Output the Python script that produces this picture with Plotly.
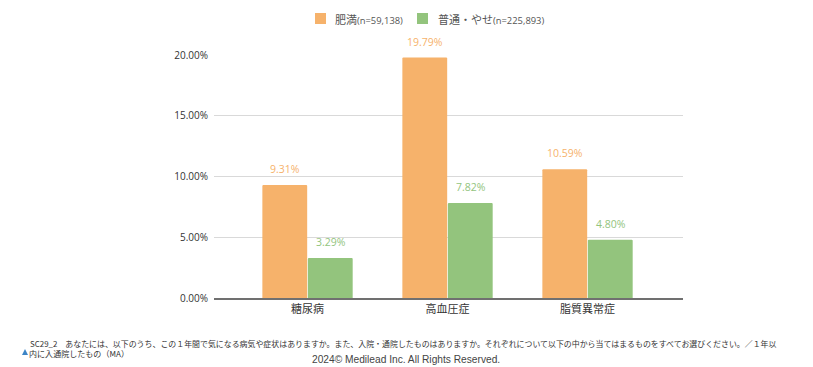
import plotly.graph_objects as go

categories = ["糖尿病", "高血圧症", "脂質異常症"]
obese_name = "肥満"
obese_n = "(n=59,138)"
normal_name = "普通・やせ"
normal_n = "(n=225,893)"
obese = [9.31, 19.79, 10.59]
normal = [3.29, 7.82, 4.80]
tick_vals = [0, 5, 10, 15, 20]
question = "SC29_2　あなたには、以下のうち、この１年間で気になる病気や症状はありますか。また、入院・通院したものはありますか。それぞれについて以下の中から当てはまるものをすべてお選びください。／１年以"
question2 = "内に入通院したもの（MA）"
footer = "2024© Medilead Inc. All Rights Reserved."

OFF = 8  # page body margin
W, H = 813 - OFF, 367 - OFF
L, R, T, B = 214 - OFF, 683 - OFF, 55 - OFF, 298 - OFF
FONT = "Open Sans, Noto Sans CJK JP, sans-serif"
CJK = "Noto Sans CJK JP, sans-serif"
ORANGE, GREEN = "#F6B26B", "#93C47D"

def px(x):
    return (x - OFF - L) / (R - L)

def py(y):
    return (B - (y - OFF)) / (B - T)

def trace(name, n, vals, color):
    return go.Bar(x=categories, y=vals, name=name + n, showlegend=False,
                  marker=dict(color=color, line=dict(width=0), cornerradius=1))

fig = go.Figure([trace(obese_name, obese_n, obese, ORANGE),
                 trace(normal_name, normal_n, normal, GREEN)])
fig.update_layout(
    width=W, height=H, autosize=False,
    margin=dict(l=L, r=W - R, t=T, b=H - B, pad=0, autoexpand=False),
    paper_bgcolor="white", plot_bgcolor="white",
    barmode="group", bargap=0.35, bargroupgap=0.015,
    font=dict(family=FONT, size=10, color="#444444"),
)
fig.update_xaxes(range=[-0.668, 2.682], showgrid=False, ticks="", showline=True,
                 linecolor="#707070", linewidth=1.5, tickfont=dict(size=11, color="#333333"),
                 ticklabelstandoff=0)
fig.update_yaxes(range=[0, 20], tickvals=tick_vals, ticktext=[f"{v:.2f}%" for v in tick_vals],
                 gridcolor="#D9D9D9", gridwidth=1, zeroline=False, ticks="", ticklabelstandoff=5,
                 tickfont=dict(size=10, color="#333333"))

for vals, color, shift in [(obese, ORANGE, -23), (normal, GREEN, 23)]:
    for c, v in zip(categories, vals):
        fig.add_annotation(x=c, y=v, text=f"{v:.2f}%", showarrow=False, xshift=shift, yshift=16,
                           font=dict(color=color, size=10.5, family=FONT))

# legend row
for sx, tx, name, n, color in [(315, 333, obese_name, obese_n, ORANGE),
                               (417, 436, normal_name, normal_n, GREEN)]:
    fig.add_shape(type="rect", xref="paper", yref="paper", x0=px(sx), x1=px(sx + 11),
                  y0=py(13), y1=py(24), fillcolor=color, line=dict(width=0))
    fig.add_annotation(xref="paper", yref="paper", x=px(tx), y=py(19), xanchor="left",
                       yanchor="middle", showarrow=False,
                       text=f'<span style="font-size:11px">{name}</span>{n}',
                       font=dict(size=9.4, color="#555555", family=FONT))

fig.add_annotation(text=question, xref="paper", yref="paper", x=px(28), xanchor="left",
                   y=py(343.5), yanchor="middle", showarrow=False,
                   font=dict(size=7.93, color="#333333", family=CJK))
fig.add_annotation(text=question2, xref="paper", yref="paper", x=px(27), xanchor="left",
                   y=py(353), yanchor="middle", showarrow=False,
                   font=dict(size=8.05, color="#333333", family=CJK))
fig.add_annotation(text=footer, xref="paper", yref="paper", x=px(406), xanchor="center",
                   y=py(359), yanchor="middle", showarrow=False,
                   font=dict(size=10.2, color="#444444", family="Liberation Sans, sans-serif"))
# small blue caret left of the footnote
fig.add_shape(type="path", xref="paper", yref="paper",
              path=f"M {px(22)} {py(355)} L {px(25)} {py(349)} L {px(28)} {py(355)} Z",
              fillcolor="#3D85C6", line=dict(width=0))
fig.write_html("out.html")
